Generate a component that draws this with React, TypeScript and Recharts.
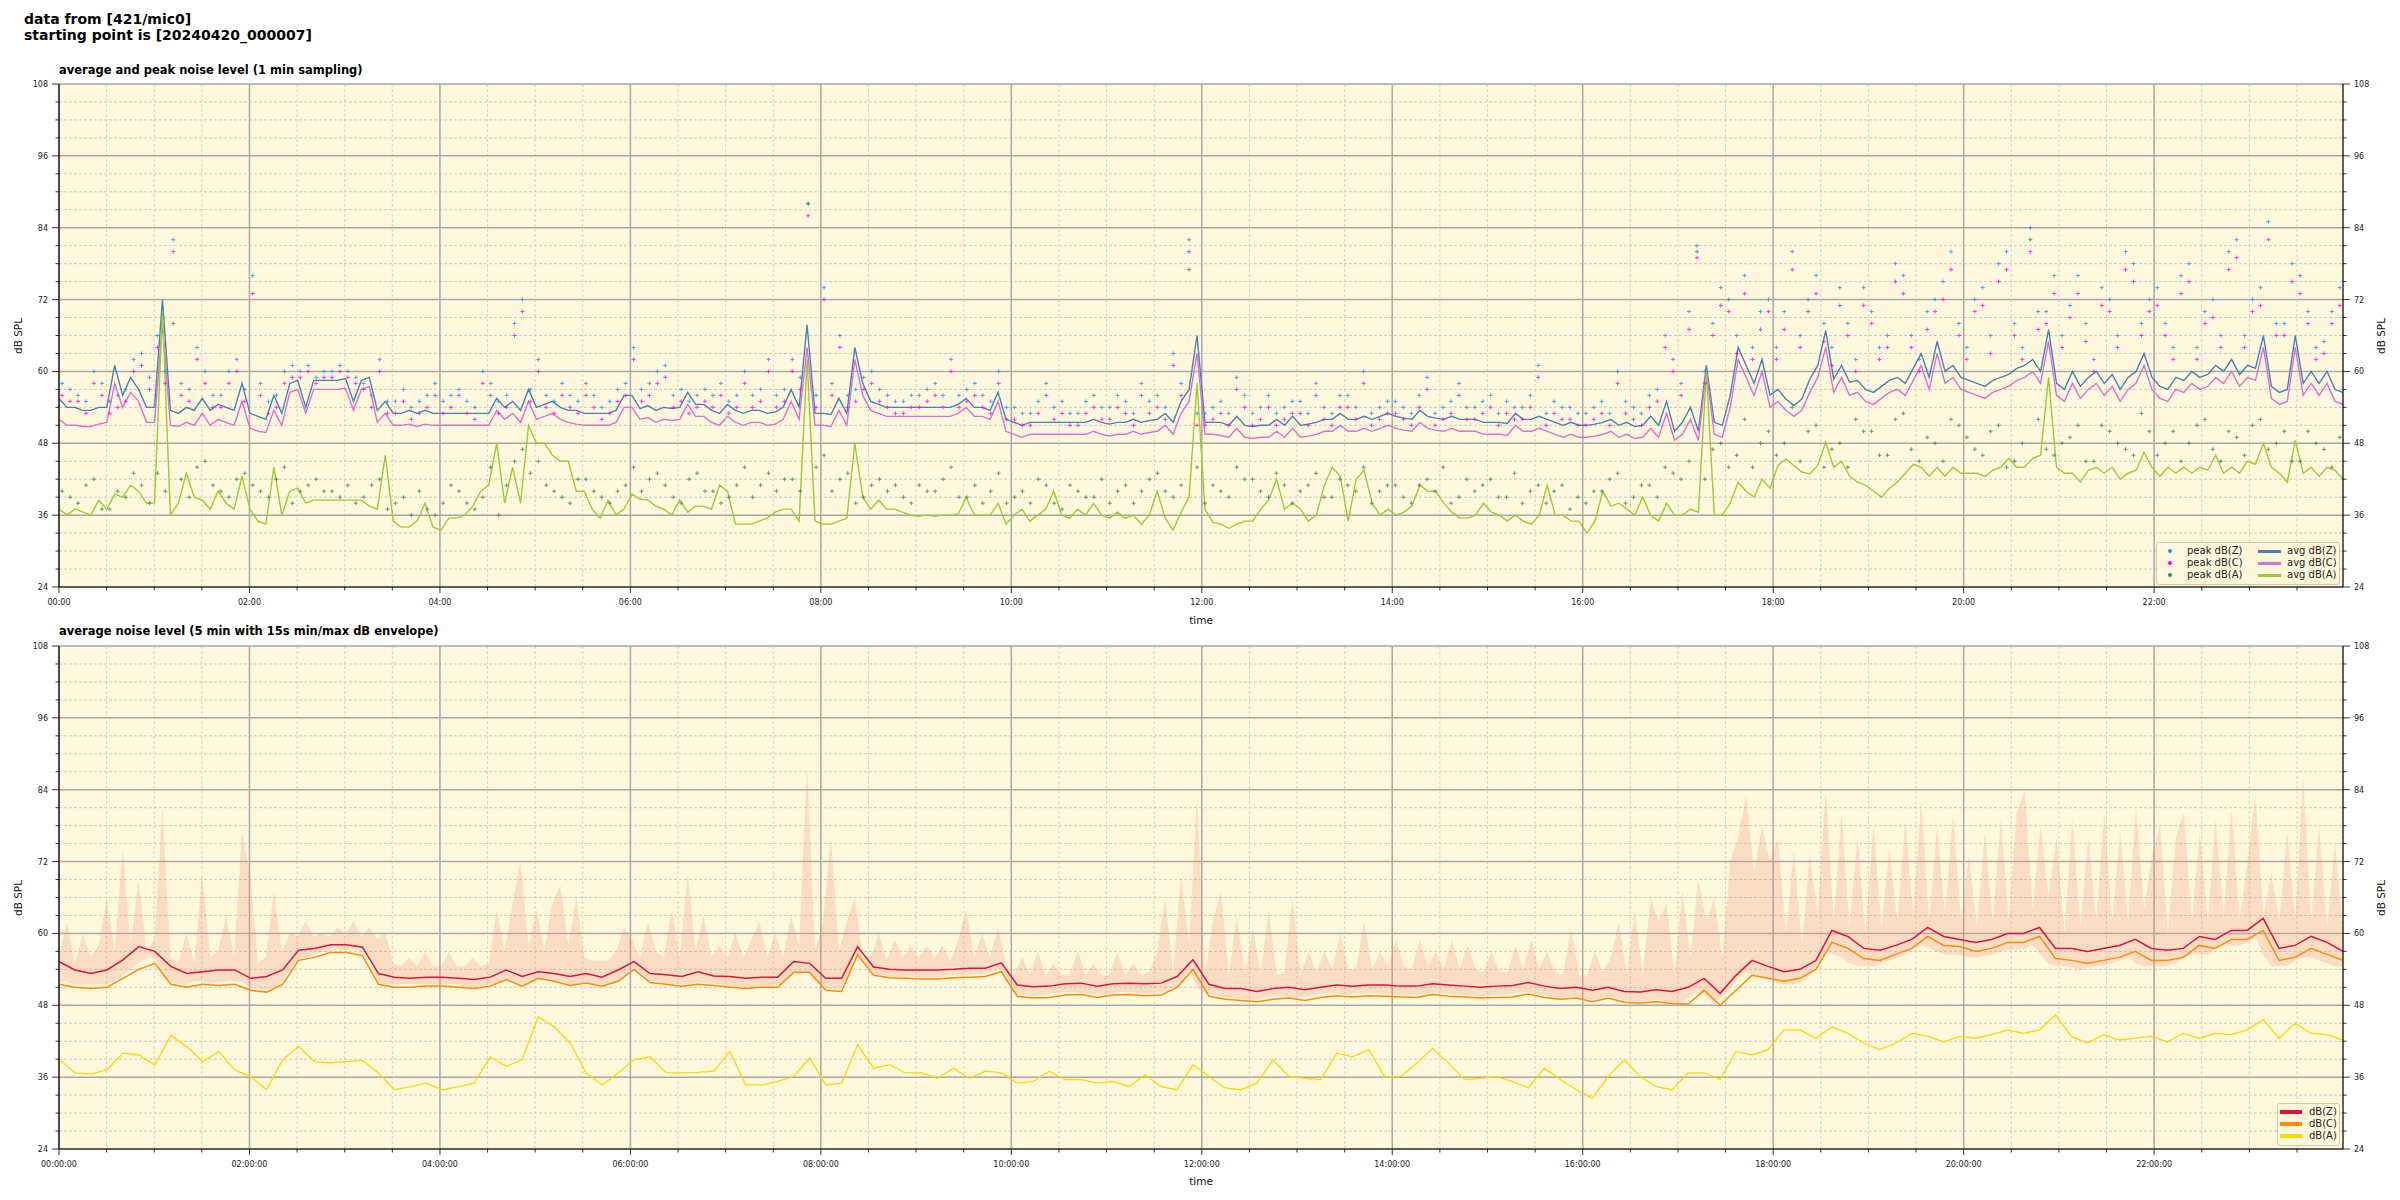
import React from 'react';
import {
  ComposedChart,
  Line,
  Area,
  Scatter,
  XAxis,
  YAxis,
  CartesianGrid,
} from 'recharts';

document.body.style.margin = '0';

// ---- top panel: 1 min sampling, read at 5 min steps ----
const avgZ = [
  55.5, 54, 54, 53.5, 53.5, 54, 54, 61, 56, 59, 57, 54,
  54, 72, 53.5, 53, 54, 53.5, 55.5, 53.5, 54.5, 54, 53.5, 58,
  53, 52.5, 52, 56, 53, 58, 58.5, 54, 58.5, 58.5, 58.5, 58.5,
  58.8, 55, 58.5, 59, 53.5, 55, 53, 53, 53.5, 53, 53.5, 53,
  53, 53, 53, 53, 53, 53, 53, 55.5, 54, 55, 53.5, 57,
  54, 54.5, 55, 54, 53.5, 53.5, 53, 53, 53, 53, 53.5, 56,
  56, 53.8, 54.3, 53.5, 54, 53.8, 54, 56.5, 54.5, 54.5, 53.5, 53,
  54.5, 53.5, 53, 53.5, 53.5, 53, 53.2, 54, 57, 54, 67.8, 53,
  53, 52.8, 55.5, 53, 64, 58, 55, 54.5, 54, 54, 54, 54,
  54, 54, 54, 54, 54, 54.5, 55.5, 54, 54, 53.5, 56.5, 52,
  51.5, 51, 51.5, 51.5, 51.5, 51.5, 51.5, 51.5, 51.5, 51.5, 52, 51.5,
  51.2, 51.5, 51.5, 52, 51.5, 51.8, 52, 53, 51.5, 55, 57, 66,
  51.5, 51.5, 51.5, 51, 52.5, 51, 50.8, 51, 51, 52, 51, 52.5,
  51, 51.2, 51.5, 52, 52, 53, 52, 52, 52.5, 52, 52.5, 53,
  52.5, 52.2, 52, 53.5, 52.5, 52.2, 52, 52.5, 52, 52, 52, 51.5,
  51.5, 51.5, 51.3, 53, 52, 52, 52.5, 52, 51.5, 51, 51.5, 51,
  51, 51.2, 51.5, 52, 51, 51.5, 50.8, 51, 52.5, 51, 55, 50,
  51.5, 54, 50, 61, 51.5, 51, 56, 64, 61, 58, 62, 56,
  57, 55.4, 54.3, 55.4, 58.7, 61, 66.8, 58.7, 61, 58.2, 58.5, 57,
  56.5, 57.5, 58.5, 59, 58, 60.5, 63, 59, 65, 60, 61, 59,
  58.5, 58, 57.5, 58.5, 59, 59.5, 60.5, 61, 62, 60, 67, 58,
  57, 60, 57.5, 59, 60, 58, 59.5, 57, 59, 60, 63, 59,
  57.5, 57, 59, 58.5, 60, 59, 59.5, 61, 60, 62, 59.5, 61,
  60.5, 66, 57.5, 56.5, 57, 66, 58, 60, 58, 60, 57, 56.5,
];

const avgC = [
  52, 51, 51, 50.8, 50.8, 51.2, 51.5, 58, 54, 56.5, 55, 51.5,
  51.5, 68, 51, 50.8, 51.5, 51, 53, 51, 52, 51.5, 51, 55,
  50.5, 50, 49.8, 53.5, 51, 56.5, 57, 53, 57, 57, 57, 57,
  57.2, 53.5, 57, 57.5, 51.5, 53, 51, 51, 51.2, 50.8, 51.2, 51,
  51, 51, 51, 51, 51, 51, 51, 53.5, 52, 53, 51.5, 55,
  52, 52.5, 53, 52, 51.5, 51.2, 51, 51, 51, 51, 51.5, 54,
  54, 52, 52.3, 51.5, 52, 51.8, 52, 54.5, 52.5, 52.5, 51.5, 51,
  52.5, 51.5, 51, 51.5, 51.5, 51, 51.2, 52, 55, 52, 64, 51,
  51, 50.8, 53.5, 51, 62, 56, 53.5, 53, 52.5, 52.5, 52.5, 52.5,
  52.5, 52.5, 52.5, 52.5, 52.5, 53, 54, 52.5, 52.5, 52, 55, 50,
  49.5, 49, 49.5, 49.5, 49.5, 49.5, 49.5, 49.5, 49.5, 49.5, 50, 49.5,
  49.2, 49.5, 49.5, 50, 49.5, 49.8, 50, 51, 49.5, 53, 55, 63,
  49.5, 49.5, 49.3, 49, 50.5, 49, 48.8, 49, 49, 50, 49, 50.5,
  49, 49.2, 49.5, 50, 50, 51, 50, 50, 50.5, 50, 50.5, 51,
  50.5, 50.2, 50, 51.5, 50.5, 50.2, 50, 50.5, 50, 50, 50, 49.5,
  49.5, 49.5, 49.3, 51, 50, 50, 50.5, 50, 49.5, 49, 49.5, 49,
  49, 49.2, 49.5, 50, 49, 49.5, 48.8, 49, 50.5, 49, 53, 48.5,
  49.5, 52, 48.5, 60, 49.5, 49, 54, 62, 59, 56, 60, 54,
  55, 53.5, 52.5, 53.5, 56.5, 59, 64, 56.5, 59, 56, 56.5, 55,
  54.5, 55.5, 56.5, 57, 56, 58.5, 61, 57, 63, 58, 59, 57,
  56.5, 56, 55.5, 56.5, 57, 57.5, 58.5, 59, 60, 58, 65, 56,
  55, 58, 55.5, 57, 58, 56, 57.5, 55, 57, 58, 61, 57,
  55.5, 55, 57, 56.5, 58, 57, 57.5, 59, 58, 60, 57.5, 59,
  58.5, 64, 55.5, 54.5, 55, 64, 56, 58, 56, 58, 55, 54.5,
];

const avgA = [
  37, 36, 37, 36.5, 36, 38.5, 37, 39.5, 39, 41, 40, 38,
  38, 70, 36, 38, 43, 39, 38.5, 37, 40, 38, 37, 42.5,
  37, 35, 34.5, 44, 36, 40, 40.5, 38, 38.5, 38.5, 38.5, 38.5,
  38.5, 38.5, 38.5, 37.5, 37, 46, 35, 34, 34, 35, 38, 34,
  33.5, 35.5, 35.5, 36, 37.5, 40, 41, 48, 38, 44, 38, 51,
  48, 48, 46, 45, 45, 40, 40, 37, 35.5, 38.5, 36, 37,
  39.5, 38.7, 38.5, 37.5, 37, 36, 38.5, 36.5, 37.5, 37.5, 37, 41,
  40, 34.5, 34.5, 34.5, 35, 35.5, 36.5, 37, 37, 35, 62, 35,
  34.5, 34.5, 35, 35.5, 48, 39, 37, 38.5, 37, 37, 36.5, 36,
  35.8, 36, 35.8, 36, 36, 36.2, 39, 36, 36, 36, 38, 34.5,
  36, 37, 35, 36, 37, 40, 36, 35.5, 37, 36, 38, 36,
  35.5, 36.5, 35.5, 36, 34.5, 36, 40, 35.5, 33.5, 36.5, 39, 58,
  37, 34.8, 34.5, 33.8, 34.5, 35, 35, 37, 38.5, 42, 37, 38,
  37, 35, 36, 41, 44, 42.5, 35, 42, 43.5, 38, 36, 37,
  36, 36.5, 37.5, 41, 40, 40, 38, 36.5, 35.5, 35.5, 36, 38,
  36.5, 36, 35, 36, 35, 34.5, 36, 41, 36, 36, 35, 35,
  33, 35, 40, 37.5, 38, 37, 36, 39, 36, 35, 38, 36,
  36, 37, 36.5, 60, 36, 36, 38, 41.5, 40, 39, 42, 40.5,
  44.3, 45.4, 44.3, 43.2, 42.9, 44.3, 48.2, 44, 45, 42.5, 41.5, 41,
  40, 39, 40.5, 41.5, 43, 44.5, 44, 42.5, 44, 42.5, 44, 43,
  43, 43, 42.5, 43.5, 44, 45.5, 44, 44, 45.5, 46, 59, 44,
  43, 43, 41.5, 43.5, 44, 43, 44, 42, 43, 43.5, 46.5, 44,
  42.5, 44, 43, 44, 43, 44, 43.5, 46, 43, 44, 43, 45,
  44.5, 48, 44, 43, 41.5, 48.5, 43, 44, 42.5, 44, 43.5, 42,
];

// peaks, two readings per 10 min slot (early and late)
const peakZ = [
  58, 56, 60, 55, 57, 63, 66, 82, 57, 60, 56, 62,
  76, 55, 60, 60, 59, 60, 60, 58, 62, 55, 54, 56,
  55, 57, 54, 58, 56, 72, 62, 55, 56, 58, 54, 57,
  64, 58, 61, 57, 56, 56, 55, 60, 57, 56, 62, 88,
  74, 66, 57, 60, 56, 55, 56, 58, 62, 57, 56, 60,
  54, 53, 58, 55, 53, 56, 54, 55, 58, 56, 63, 82,
  53, 55, 59, 53, 56, 54, 55, 58, 53, 56, 60, 54,
  55, 53, 59, 54, 58, 54, 56, 55, 54, 61, 55, 54,
  53, 55, 60, 54, 56, 66, 58, 81, 68, 72, 76, 70,
  64, 80, 72, 68, 74, 62, 70, 66, 76, 62, 72, 80,
  64, 74, 78, 68, 84, 70, 66, 76, 62, 72, 80, 68,
  74, 64, 78, 70, 66, 82, 72, 85, 68, 76, 64, 70,
];
const peakZLate = [
  57, 55, 58, 56, 62, 59, 60, 58, 64, 56, 60, 57,
  58, 56, 61, 61, 60, 61, 59, 56, 55, 57, 55, 58,
  56, 55, 60, 55, 68, 57, 56, 58, 55, 56, 55, 58,
  57, 60, 56, 55, 57, 58, 56, 56, 62, 57, 59, 56,
  58, 56, 59, 57, 55, 56, 57, 56, 56, 58, 55, 54,
  53, 55, 54, 53, 55, 54, 56, 53, 55, 54, 58, 53,
  54, 53, 56, 54, 53, 55, 53, 54, 56, 54, 53, 55,
  54, 56, 53, 55, 54, 55, 53, 54, 56, 53, 54, 53,
  54, 53, 55, 53, 57, 62, 70, 60, 74, 66, 64, 72,
  70, 66, 76, 64, 68, 74, 64, 78, 66, 70, 75, 68,
  72, 66, 80, 64, 70, 76, 71, 68, 74, 66, 78, 72,
  68, 76, 64, 72, 80, 66, 74, 68, 78, 70, 65, 74,
];

const peakC = [
  56, 55, 58, 53, 55, 61, 64, 80, 55, 58, 54, 60,
  73, 53, 58, 59, 58, 59, 59, 57, 60, 53, 52, 54,
  53, 56, 52, 56, 54, 70, 60, 53, 54, 56, 52, 55,
  62, 56, 59, 55, 54, 54, 53, 58, 55, 54, 60, 86,
  72, 64, 55, 58, 54, 53, 54, 56, 60, 55, 54, 58,
  52, 51, 56, 53, 51, 54, 52, 53, 56, 54, 61, 80,
  51, 53, 57, 51, 54, 52, 53, 56, 51, 54, 58, 52,
  53, 51, 57, 52, 56, 52, 54, 53, 52, 59, 53, 52,
  51, 53, 58, 52, 54, 64, 56, 79, 66, 70, 73, 67,
  62, 77, 70, 65, 71, 60, 68, 64, 73, 60, 70, 77,
  62, 71, 75, 66, 80, 68, 64, 73, 60, 70, 77, 66,
  71, 62, 75, 68, 64, 79, 70, 82, 66, 73, 62, 68,
];
const peakCLate = [
  55, 53, 56, 54, 60, 57, 58, 56, 62, 54, 58, 55,
  56, 54, 59, 60, 59, 60, 58, 54, 53, 55, 53, 56,
  54, 53, 58, 53, 66, 55, 54, 56, 53, 54, 53, 56,
  55, 58, 54, 53, 55, 56, 54, 54, 60, 55, 57, 54,
  56, 54, 57, 55, 53, 54, 55, 54, 54, 56, 53, 52,
  51, 53, 52, 51, 53, 52, 54, 51, 53, 52, 56, 51,
  52, 51, 54, 52, 51, 53, 51, 52, 54, 52, 51, 53,
  52, 54, 51, 53, 52, 53, 51, 52, 54, 51, 52, 51,
  52, 51, 53, 51, 55, 60, 67, 58, 71, 63, 62, 70,
  67, 64, 73, 61, 66, 71, 62, 75, 64, 67, 72, 66,
  70, 63, 77, 62, 67, 73, 69, 65, 71, 64, 75, 70,
  66, 73, 62, 69, 77, 64, 71, 66, 75, 68, 63, 71,
];

const peakA = [
  40, 38, 42, 37, 39, 41, 43, 68, 39, 45, 40, 42,
  41, 39, 44, 40, 42, 40, 41, 39, 42, 38, 36, 37,
  38, 40, 37, 44, 41, 47, 45, 40, 38, 42, 39, 40,
  44, 42, 41, 38, 43, 40, 39, 44, 41, 40, 42, 88,
  46, 42, 38, 41, 40, 39, 41, 40, 44, 39, 38, 43,
  39, 38, 41, 37, 40, 39, 38, 41, 40, 43, 39, 77,
  38, 40, 44, 42, 39, 41, 40, 43, 39, 41, 44, 40,
  41, 38, 42, 44, 39, 40, 42, 39, 38, 41, 40, 37,
  38, 40, 43, 39, 41, 44, 42, 80, 47, 44, 52, 48,
  46, 54, 50, 44, 48, 52, 50, 46, 53, 45, 48, 52,
  49, 46, 51, 45, 82, 47, 48, 51, 45, 50, 47, 53,
  46, 50, 48, 52, 45, 49, 51, 47, 50, 45, 48, 44,
];
const peakALate = [
  39, 41, 37, 40, 43, 38, 40, 42, 44, 41, 39, 43,
  40, 42, 38, 41, 40, 39, 38, 41, 37, 39, 40, 36,
  41, 38, 39, 36, 45, 43, 41, 39, 42, 40, 38, 41,
  40, 43, 39, 42, 40, 38, 41, 39, 43, 42, 40, 44,
  40, 43, 39, 42, 41, 38, 40, 42, 39, 41, 40, 38,
  40, 42, 38, 41, 39, 42, 40, 38, 42, 40, 41, 44,
  41, 39, 42, 40, 43, 38, 41, 39, 42, 40, 38, 41,
  39, 41, 40, 38, 42, 41, 39, 43, 40, 38, 41, 39,
  40, 42, 38, 41, 39, 43, 45, 42, 48, 46, 44, 50,
  48, 45, 51, 47, 44, 50, 46, 52, 47, 49, 45, 51,
  47, 50, 44, 48, 52, 46, 49, 45, 51, 48, 46, 50,
  48, 45, 51, 47, 50, 46, 52, 48, 45, 50, 47, 49,
];

// ---- bottom panel: 5 min averages, read at 10 min steps ----
const levelZ = [
  55.3, 53.9, 53.3, 53.9, 55.6, 57.8, 57, 54.5, 53.3, 53.6, 53.9, 53.9,
  52.5, 52.8, 53.9, 57.2, 57.5, 58.1, 58.1, 57.7, 53.3, 52.7, 52.5, 52.7,
  52.7, 52.5, 52.3, 52.7, 53.9, 52.8, 53.6, 53.3, 52.8, 53.3, 52.7, 53.9,
  55.3, 53.3, 53.1, 52.8, 53.6, 52.9, 52.8, 52.5, 52.7, 52.7, 55.3, 55,
  52.5, 52.5, 57.8, 54.4, 54, 53.9, 53.9, 53.9, 54, 54.2, 54.2, 55.1,
  51.4, 51.1, 51.2, 51.6, 51.7, 51.2, 51.6, 51.7, 51.6, 51.7, 52.8, 55.6,
  51.5, 50.8, 50.8, 50.3, 50.8, 51, 50.6, 51, 51.4, 51.2, 51.4, 51.4,
  51.2, 51.2, 51.6, 51.4, 51.2, 51, 51.2, 51.3, 51.8, 51.2, 50.8, 51,
  50.5, 51, 50.3, 50.2, 50.6, 50.3, 51, 52.5, 50, 53, 55.5, 54.5,
  53.6, 54, 55.5, 60.5, 59.5, 57.5, 57.2, 58, 59, 61, 59.5, 59,
  58.5, 59, 60, 60, 61, 57.5, 57.5, 57, 57.5, 58, 59, 57.5,
  57.2, 57.5, 59.5, 59, 60.5, 60.5, 62.5, 57.5, 58, 59.5, 58.5, 57,
];

const levelC = [
  51.5, 51, 50.8, 51, 52.5, 54, 55, 51.5, 51, 51.5, 51.3, 51.5,
  50.5, 50.2, 51.5, 55.5, 56, 56.8, 56.8, 56.3, 51.5, 51, 51, 51.2,
  51.2, 51, 50.8, 51.2, 52.3, 51.2, 52.5, 52, 51.3, 51.7, 51.2, 52,
  54, 51.8, 51.5, 51.2, 51.5, 51.3, 51, 50.8, 51, 51, 53.5, 53.5,
  50.5, 50.3, 56.5, 53, 52.6, 52.5, 52.4, 52.4, 52.6, 52.7, 52.8, 53.6,
  49.5, 49.2, 49.3, 49.7, 49.8, 49.3, 49.7, 49.8, 49.6, 49.7, 51, 54,
  49.5, 49, 48.8, 48.6, 49, 49.2, 48.8, 49.3, 49.6, 49.4, 49.6, 49.5,
  49.4, 49.3, 49.8, 49.5, 49.4, 49.2, 49.3, 49.4, 49.9, 49.3, 49, 49.2,
  48.6, 49.2, 48.5, 48.4, 48.6, 48.3, 48.2, 50.5, 48, 50.5, 53, 52.5,
  52, 52.5, 54, 58.5, 57.5, 55.8, 55.5, 56.5, 57.5, 59.5, 58, 57.8,
  57, 57.5, 58.5, 58.5, 59.5, 55.8, 55.5, 55, 55.5, 56, 57, 55.5,
  55.5, 56, 58, 57.5, 59, 59, 60.5, 55.5, 56, 57.5, 56.5, 55.5,
];

const levelA = [
  39, 36.7, 36.5, 37.2, 40, 39.7, 38, 43, 41.1, 38.6, 40.3, 37.2,
  36.1, 33.9, 38.9, 41.1, 38.6, 38.4, 38.6, 38.8, 36.7, 33.9, 34.4, 35,
  33.9, 34.4, 35, 39.4, 37.8, 38.9, 46.1, 44.4, 41.7, 36.7, 34.7, 36.7,
  38.9, 39.4, 36.7, 36.7, 36.8, 37, 40.3, 34.7, 34.7, 35.3, 36.1, 39.2,
  34.7, 35, 41.4, 37.5, 38.1, 36.7, 36.7, 35.8, 37.5, 35.8, 37, 36.7,
  35, 35.3, 37, 35.6, 35.6, 35, 35.3, 34.4, 36.4, 34.4, 33.9, 38.1,
  36.1, 34.2, 33.9, 35, 38.9, 36.1, 35.8, 35.6, 40, 39.4, 40.6, 36.1,
  36.1, 38.3, 40.8, 38.3, 35.6, 35.8, 36.1, 35.3, 34.2, 37.5, 35.6, 33.9,
  32.5, 36.1, 38.9, 36.1, 34.4, 33.9, 36.7, 36.7, 35.6, 40.3, 39.7, 40.6,
  43.9, 43.9, 42.5, 44.4, 43.3, 41.7, 40.6, 41.7, 43.3, 42.8, 41.9, 42.8,
  42.5, 43.1, 43.9, 43.3, 43.9, 46.4, 42.8, 41.7, 43.1, 42.2, 42.5, 42.8,
  41.9, 43.3, 42.5, 43.3, 43.1, 43.9, 45.6, 42.5, 45, 43.3, 43.1, 42.2,
];

// 15 s min/max envelope, read at 5 min steps
const envLow = [
  52, 52, 51.5, 51.5, 51.5, 51.5, 51.5, 52, 53, 54, 55, 56, 56, 53, 52, 51.5, 51.5, 52, 52, 51.5, 52, 52, 52, 52,
  51, 51, 50.5, 51, 52, 54, 55.5, 56, 56.5, 57, 57, 57.5, 57, 57.5, 57, 56.5, 52, 51.5, 51.5, 51.5, 51.5, 51.5, 51.5, 51.5,
  51.5, 51.5, 51.5, 51, 51, 51, 51.5, 51.5, 52.5, 52, 51.5, 51.5, 52.5, 52.5, 52, 52, 51.5, 51.5, 52, 51.5, 51.5, 51.5, 52, 52.5,
  54, 53, 52, 52, 51.8, 51.5, 51.5, 51.5, 51.8, 51.8, 51.5, 51.5, 51.2, 51.2, 51, 51, 51.2, 51.2, 51.5, 51.5, 53.5, 53, 53.5, 52,
  51, 50.8, 50.8, 52, 56.5, 55, 53.2, 53, 52.8, 52.8, 52.8, 52.8, 52.7, 52.7, 52.7, 52.8, 53, 53, 53, 53.2, 53.2, 53.5, 54, 53,
  50, 49.8, 49.6, 49.7, 49.8, 50, 50.2, 50.2, 50.2, 50, 49.8, 49.8, 50, 50.2, 50.2, 50.2, 50, 50, 50.2, 50.2, 51, 52, 54, 51,
  50, 49.8, 49.5, 49.3, 49.2, 49, 49, 49.2, 49.5, 49.6, 49.6, 49.3, 49.3, 49.5, 49.8, 50, 50, 49.8, 49.8, 50, 50, 50, 50, 49.8,
  49.8, 49.7, 49.7, 49.8, 50, 50.2, 50, 49.9, 49.8, 49.7, 49.6, 49.6, 49.7, 49.8, 49.8, 50, 50.2, 50.2, 49.8, 49.6, 49.4, 49.4, 49.6, 49.4,
  49, 49, 49.3, 49.5, 49, 48.8, 48.7, 48.7, 48.8, 49, 48.6, 48.5, 48.5, 49.5, 50.5, 49.5, 48.3, 49.5, 51, 52.5, 53.5, 53, 52.5, 52.5,
  51.5, 51.5, 51.5, 52, 53, 55, 57, 56.5, 56, 55, 54.5, 54.5, 54.5, 55, 55.5, 56, 56.5, 57.5, 58, 57.5, 57, 56.5, 56.5, 56.3,
  56, 56, 56.3, 56.5, 57, 57.3, 57.3, 57.5, 58, 56.5, 55, 54.5, 54.5, 54.3, 54, 54.3, 54.5, 54.7, 55, 55.5, 56, 55, 54.5, 54.5,
  54.5, 54.7, 55, 56, 56.7, 56.5, 56.5, 57.5, 58, 58, 58, 58.5, 59.5, 56.5, 54.5, 54.5, 54.7, 55.5, 56, 56, 55.5, 55, 54.5, 54.5,
];

const envHigh = [
  56, 62, 55, 60, 56, 58, 66, 57, 74, 58, 69, 57,
  59, 81, 56, 55, 60, 55, 70, 56, 57, 63, 56, 77,
  70, 55, 56, 67, 57, 60, 59.5, 62, 59.5, 60, 59.5, 61,
  60, 62, 59.5, 61, 59, 60, 55, 54.5, 56, 54.5, 57, 54.5,
  54.5, 57, 54.5, 54.5, 56, 54.5, 55, 64, 57, 65, 72, 58,
  64, 57, 65, 68, 58, 66, 56, 55.5, 55.5, 55.5, 57, 61,
  59, 56, 62, 57, 56, 64, 56, 70, 57, 63, 56, 58,
  56, 60, 56, 59, 62, 56, 60, 56, 63, 58, 88, 57,
  62, 76, 57, 62, 66, 56, 56, 60, 55.5, 59, 56, 58,
  56, 58, 56, 58, 55.5, 59, 64, 56, 60, 56, 61, 55,
  53, 56, 53, 57, 53, 55, 53, 53, 57, 53, 55, 53,
  53, 57, 53, 55, 53, 53.5, 57, 66, 53.5, 70, 58, 83,
  53, 62, 67, 53, 63, 53, 61, 53, 64, 53, 53.5, 66,
  53, 57, 53.5, 57, 54, 60, 54, 54, 62, 54, 57, 54.5,
  59, 54.5, 54, 59, 54.5, 57, 54, 59, 54, 58, 54, 53.5,
  57, 53.5, 53.5, 58, 54, 59, 54, 57, 53.5, 53, 61, 53,
  53, 57, 53.5, 56, 62, 53, 64, 53, 66, 62, 65, 53,
  67, 56, 69, 62, 66, 56, 72, 76, 83, 70, 78, 72,
  76, 60, 74, 58, 73, 63, 84, 62, 80, 61, 76, 60,
  78, 61, 74, 62, 79, 63, 82, 62, 78, 63, 80, 62,
  73, 61, 77, 62, 79, 62, 80, 84, 64, 78, 66, 76,
  60, 79, 61, 76, 62, 80, 62, 77, 62, 81, 64, 73,
  78, 60, 76, 80, 62, 77, 62, 79, 63, 81, 62, 72,
  83, 63, 70, 62, 77, 62, 86, 62, 78, 61, 75, 60,
];

const DAY_END = 1439; // minutes shown on the time axis
const xTicks = Array.from({ length: 48 }, (_, i) => i * 30);
const yTicks = Array.from({ length: 29 }, (_, i) => 24 + i * 3);
const majorX = xTicks.filter((t) => t % 120 === 0);
const majorY = yTicks.filter((v) => v % 12 === 0);

const FONT = '"DejaVu Sans", sans-serif';

const toRows = (vals: number[]) =>
  vals.map((v, i) => ({ t: (i * DAY_END) / (vals.length - 1), v }));
const slotRows = (vals: number[], shift: number) =>
  vals.map((v, i) => ({ t: i * 10 + shift, v }));

const envRows = envLow.map((lo, i) => ({
  t: (i * DAY_END) / (envLow.length - 1),
  range: [lo, envHigh[i]],
}));

const pad = (n: number) => String(n).padStart(2, '0');
const fmtShort = (m: number) => `${pad(Math.floor(m / 60))}:00`;
const fmtLong = (m: number) => `${pad(Math.floor(m / 60))}:00:00`;

const XTick = (props: any) => {
  const { x, y, payload, fmt } = props;
  const major = payload.value % 120 === 0;
  return (
    <g>
      <line x1={x} x2={x} y1={y} y2={y + (major ? 6 : 3.5)} stroke="#000" strokeWidth={0.8} />
      {major && (
        <text x={x} y={y + 18} textAnchor="middle" fontSize={8} fill="#222" fontFamily={FONT}>
          {fmt(payload.value)}
        </text>
      )}
    </g>
  );
};

const YTick = (props: any) => {
  const { x, y, payload, side } = props;
  const major = payload.value % 12 === 0;
  const dir = side === 'left' ? -1 : 1;
  return (
    <g>
      <line x1={x} x2={x + dir * (major ? 7 : 3.5)} y1={y} y2={y} stroke="#000" strokeWidth={0.8} />
      {major && (
        <text
          x={x + dir * 11}
          y={y + 3}
          textAnchor={side === 'left' ? 'end' : 'start'}
          fontSize={8}
          fill="#222"
          fontFamily={FONT}
        >
          {payload.value}
        </text>
      )}
    </g>
  );
};

const plusShape = (color: string) => (p: any) => (
  <path
    d={`M${p.cx - 2},${p.cy}h4M${p.cx},${p.cy - 2}v4`}
    stroke={color}
    strokeWidth={1}
    opacity={0.8}
  />
);

const frame = (fmt: (m: number) => string, xHeight: number) => [
  <CartesianGrid
    key="bg"
    yAxisId="l"
    fill="#fff8dc"
    fillOpacity={1}
    vertical={false}
    stroke="#bdbdbd"
    strokeWidth={0.8}
    strokeDasharray="3 2"
  />,
  <CartesianGrid
    key="minorV"
    yAxisId="l"
    horizontal={false}
    stroke="#d2cbb6"
    strokeWidth={0.8}
    strokeDasharray="3 2"
  />,
  <CartesianGrid
    key="major"
    yAxisId="l"
    stroke="#aaaaaa"
    strokeWidth={1.5}
    horizontalValues={majorY}
    verticalValues={majorX}
  />,
  <XAxis
    key="x"
    type="number"
    dataKey="t"
    domain={[0, DAY_END]}
    ticks={xTicks}
    interval={0}
    height={xHeight}
    tickSize={0}
    tickMargin={0}
    tickLine={false}
    axisLine={{ stroke: '#000', strokeWidth: 1.2 }}
    tick={<XTick fmt={fmt} />}
    allowDataOverflow
  />,
  <XAxis
    key="xt"
    xAxisId="top"
    orientation="top"
    type="number"
    domain={[0, DAY_END]}
    height={0}
    tick={false}
    tickLine={false}
    axisLine={{ stroke: '#000', strokeWidth: 1.2 }}
  />,
  <YAxis
    key="yl"
    yAxisId="l"
    type="number"
    domain={[24, 108]}
    ticks={yTicks}
    interval={0}
    width={59}
    tickSize={0}
    tickMargin={0}
    tickLine={false}
    axisLine={{ stroke: '#000', strokeWidth: 1.2 }}
    tick={<YTick side="left" />}
    allowDataOverflow
  />,
  <YAxis
    key="yr"
    yAxisId="r"
    orientation="right"
    type="number"
    domain={[24, 108]}
    ticks={yTicks}
    interval={0}
    width={57}
    tickSize={0}
    tickMargin={0}
    tickLine={false}
    axisLine={{ stroke: '#000', strokeWidth: 1.2 }}
    tick={<YTick side="right" />}
    allowDataOverflow
  />,
];

const textAt = (
  text: string,
  cx: number,
  cy: number,
  rotate = false,
): React.ReactNode => (
  <div
    style={{
      position: 'absolute',
      left: cx,
      top: cy,
      transform: `translate(-50%, -50%)${rotate ? ' rotate(-90deg)' : ''}`,
      fontFamily: FONT,
      fontSize: 10.5,
      whiteSpace: 'nowrap',
      color: '#111',
    }}
  >
    {text}
  </div>
);

const legendBox: React.CSSProperties = {
  position: 'absolute',
  border: '1px solid #dcc49c',
  borderRadius: 3,
  background: 'rgba(255,248,220,0.85)',
  fontFamily: FONT,
  fontSize: 10,
  color: '#222',
};

const rowStyle = (top: number): React.CSSProperties => ({
  position: 'absolute',
  top,
  height: 12,
  lineHeight: '12px',
  whiteSpace: 'nowrap',
});

const panelTitle: React.CSSProperties = {
  position: 'absolute',
  left: 59,
  fontFamily: FONT,
  fontWeight: 'bold',
  fontSize: 11.5,
  lineHeight: '13px',
  whiteSpace: 'nowrap',
};

const topPeaks = [
  { name: 'peak dB(Z)', color: '#1e90ff' },
  { name: 'peak dB(C)', color: '#ff00ff' },
  { name: 'peak dB(A)', color: '#2e8b57' },
];
const topAvgs = [
  { name: 'avg dB(Z)', color: '#4682b4' },
  { name: 'avg dB(C)', color: '#da70d6' },
  { name: 'avg dB(A)', color: '#9acd32' },
];
const bottomSeries = [
  { name: 'dB(Z)', color: '#dc143c' },
  { name: 'dB(C)', color: '#ff8c00' },
  { name: 'dB(A)', color: '#ffd700' },
];

export default function App() {
  return (
    <div style={{ position: 'relative', width: 2400, height: 1200, background: '#fff' }}>
      <div
        style={{
          position: 'absolute',
          left: 24,
          top: 11,
          fontFamily: FONT,
          fontWeight: 'bold',
          fontSize: 14,
          lineHeight: '16px',
          color: '#000',
        }}
      >
        <div>data from [421/mic0]</div>
        <div>starting point is [20240420_000007]</div>
      </div>
      <div style={{ ...panelTitle, top: 64 }}>average and peak noise level (1 min sampling)</div>
      <div style={{ ...panelTitle, top: 625 }}>average noise level (5 min with 15s min/max dB envelope)</div>

      <div style={{ position: 'absolute', left: 0, top: 0 }}>
        <ComposedChart width={2400} height={640} margin={{ top: 84, right: 0, bottom: 0, left: 0 }}>
          {frame(fmtShort, 53)}
          <Scatter yAxisId="l" data={slotRows(peakZ, 2)} dataKey="v" shape={plusShape('#1e90ff')} isAnimationActive={false} />
          <Scatter yAxisId="l" data={slotRows(peakZLate, 7)} dataKey="v" shape={plusShape('#1e90ff')} isAnimationActive={false} />
          <Scatter yAxisId="l" data={slotRows(peakC, 2)} dataKey="v" shape={plusShape('#ff00ff')} isAnimationActive={false} />
          <Scatter yAxisId="l" data={slotRows(peakCLate, 7)} dataKey="v" shape={plusShape('#ff00ff')} isAnimationActive={false} />
          <Scatter yAxisId="l" data={slotRows(peakA, 2)} dataKey="v" shape={plusShape('#2e8b57')} isAnimationActive={false} />
          <Scatter yAxisId="l" data={slotRows(peakALate, 7)} dataKey="v" shape={plusShape('#2e8b57')} isAnimationActive={false} />
          <Line yAxisId="l" data={toRows(avgZ)} dataKey="v" type="linear" stroke="#4682b4" strokeWidth={1.4} dot={false} isAnimationActive={false} />
          <Line yAxisId="l" data={toRows(avgC)} dataKey="v" type="linear" stroke="#da70d6" strokeWidth={1.4} dot={false} isAnimationActive={false} />
          <Line yAxisId="l" data={toRows(avgA)} dataKey="v" type="linear" stroke="#9acd32" strokeWidth={1.4} dot={false} isAnimationActive={false} />
        </ComposedChart>
      </div>

      <div style={{ position: 'absolute', left: 0, top: 640 }}>
        <ComposedChart width={2400} height={560} margin={{ top: 6, right: 0, bottom: 0, left: 0 }}>
          {frame(fmtLong, 51)}
          <Area
            yAxisId="l"
            data={envRows}
            dataKey="range"
            type="linear"
            stroke="none"
            fill="#ef8a7a"
            fillOpacity={0.25}
            dot={false}
            activeDot={false}
            isAnimationActive={false}
          />
          <Line yAxisId="l" data={toRows(levelZ)} dataKey="v" type="linear" stroke="#dc143c" strokeWidth={1.5} dot={false} isAnimationActive={false} />
          <Line yAxisId="l" data={toRows(levelC)} dataKey="v" type="linear" stroke="#ff8c00" strokeWidth={1.5} dot={false} isAnimationActive={false} />
          <Line yAxisId="l" data={toRows(levelA)} dataKey="v" type="linear" stroke="#ffd700" strokeWidth={1.3} dot={false} isAnimationActive={false} />
        </ComposedChart>
      </div>

      {textAt('time', 1201, 620)}
      {textAt('time', 1201, 1181)}
      {textAt('dB SPL', 18, 336, true)}
      {textAt('dB SPL', 2381, 336, true)}
      {textAt('dB SPL', 18, 898, true)}
      {textAt('dB SPL', 2381, 898, true)}

      <div style={{ ...legendBox, left: 2156, top: 542, width: 182, height: 41 }}>
        {topPeaks.map((s, i) => (
          <div key={s.name} style={rowStyle(2 + i * 12)}>
            <span
              style={{
                position: 'absolute',
                left: 11,
                top: 4,
                width: 4,
                height: 4,
                borderRadius: 2,
                background: s.color,
              }}
            />
            <span style={{ position: 'absolute', left: 30 }}>{s.name}</span>
          </div>
        ))}
        {topAvgs.map((s, i) => (
          <div key={s.name} style={rowStyle(2 + i * 12)}>
            <span
              style={{
                position: 'absolute',
                left: 101,
                top: 5,
                width: 23,
                height: 3,
                background: s.color,
              }}
            />
            <span style={{ position: 'absolute', left: 130 }}>{s.name}</span>
          </div>
        ))}
      </div>

      <div style={{ ...legendBox, left: 2277, top: 1103, width: 61, height: 41 }}>
        {bottomSeries.map((s, i) => (
          <div key={s.name} style={rowStyle(2 + i * 12)}>
            <span
              style={{
                position: 'absolute',
                left: 2,
                top: 4,
                width: 22,
                height: 3.5,
                background: s.color,
              }}
            />
            <span style={{ position: 'absolute', left: 31 }}>{s.name}</span>
          </div>
        ))}
      </div>
    </div>
  );
}
